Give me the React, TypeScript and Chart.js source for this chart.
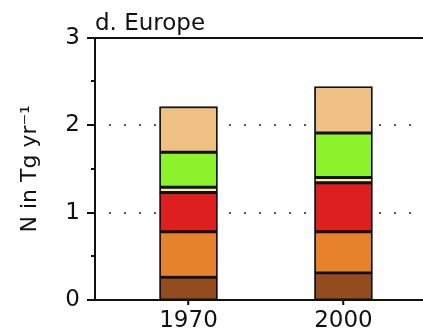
import React, { useEffect, useRef } from 'react';
import { Chart, registerables } from 'chart.js';

Chart.register(...registerables);

// ---- data ----
const years = [1970, 2000];
const seriesNames = ['Component 1', 'Component 2', 'Component 3', 'Component 4', 'Component 5', 'Component 6'];
const brownValues = [0.26, 0.31];
const orangeValues = [0.52, 0.47];
const redValues = [0.45, 0.56];
const paleValues = [0.06, 0.06];
const greenValues = [0.40, 0.51];
const tanValues = [0.52, 0.53];
const yMajorTicks = [0, 1, 2, 3];
const yMinorTicks = [0.5, 1.5, 2.5];
const dottedLevels = [1, 2];
const titleText = 'd. Europe';
const yTitle = 'N in Tg yr\u207B\u00B9';

const colors = ['#924C1D', '#E5822B', '#DD1F1F', '#F7EBA8', '#8CF22C', '#EEC084'];
const FONT = 'DejaVu Sans';

const framePlugin = {
  id: 'frame',
  beforeDatasetsDraw(chart: any) {
    const { ctx, chartArea, scales } = chart;
    const y = scales.y;
    ctx.save();
    ctx.strokeStyle = '#555';
    ctx.lineWidth = 2;
    ctx.setLineDash([2, 13]);
    for (const v of dottedLevels) {
      const py = Math.round(y.getPixelForValue(v));
      ctx.beginPath();
      ctx.moveTo(chartArea.left + 14, py);
      ctx.lineTo(chartArea.right, py);
      ctx.stroke();
    }
    ctx.restore();
  },
  afterDraw(chart: any) {
    const { ctx, chartArea, scales } = chart;
    const y = scales.y;
    const x = scales.x;
    ctx.save();
    ctx.strokeStyle = '#111';
    ctx.lineWidth = 2;
    ctx.beginPath();
    ctx.moveTo(chartArea.left, Math.round(chartArea.top));
    ctx.lineTo(chartArea.right, Math.round(chartArea.top));
    ctx.stroke();
    for (const v of yMajorTicks) {
      const py = Math.round(y.getPixelForValue(v));
      ctx.beginPath();
      ctx.moveTo(chartArea.left - 8, py);
      ctx.lineTo(chartArea.left, py);
      ctx.stroke();
    }
    for (const v of yMinorTicks) {
      const py = Math.round(y.getPixelForValue(v));
      ctx.beginPath();
      ctx.moveTo(chartArea.left - 4, py);
      ctx.lineTo(chartArea.left, py);
      ctx.stroke();
    }
    ctx.lineWidth = 1.5;
    for (const v of years) {
      const px = Math.round(x.getPixelForValue(v));
      ctx.beginPath();
      ctx.moveTo(px, chartArea.bottom);
      ctx.lineTo(px, chartArea.bottom + 5);
      ctx.stroke();
    }
    ctx.restore();
  },
};

export default function App() {
  const ref = useRef<HTMLCanvasElement | null>(null);

  useEffect(() => {
    document.body.style.margin = '0';
    const canvas = ref.current;
    if (!canvas) return;
    const seriesData = [brownValues, orangeValues, redValues, paleValues, greenValues, tanValues];
    const chart = new Chart(canvas, {
      type: 'bar',
      data: {
        labels: years,
        datasets: seriesData.map((d, i) => ({
          label: seriesNames[i],
          data: d,
          backgroundColor: colors[i],
          borderColor: '#111',
          borderWidth: 1.8,
          borderSkipped: false,
          barThickness: 58,
        })),
      },
      options: {
        responsive: false,
        animation: false,
        layout: { padding: 0 },
        plugins: {
          legend: { display: false },
          tooltip: { enabled: false },
          title: {
            display: true,
            text: titleText,
            align: 'start',
            fullSize: false,
            color: '#111',
            font: { family: FONT, size: 23, weight: 'normal' },
            padding: { top: 10, bottom: 0 },
          },
        },
        scales: {
          x: {
            type: 'linear',
            stacked: true,
            offset: false,
            min: 1951.9,
            max: 2015.4,
            afterBuildTicks: (s: any) => {
              s.ticks = years.map((v) => ({ value: v }));
            },
            afterFit: (s: any) => {
              s.height = 29;
            },
            ticks: {
              color: '#111',
              font: { family: FONT, size: 23 },
              padding: 2,
              maxRotation: 0,
              autoSkip: false,
              callback: (v: any) => String(v),
            },
            grid: {
              display: true,
              offset: false,
              drawOnChartArea: false,
              drawTicks: true,
              tickLength: 5,
              tickColor: '#111',
              tickWidth: 1.5,
            },
            border: { display: true, color: '#111', width: 2 },
          },
          y: {
            stacked: true,
            min: 0,
            max: 3,
            afterFit: (s: any) => {
              s.width = 95;
            },
            afterBuildTicks: (s: any) => {
              s.ticks = yMajorTicks.map((v) => ({ value: v }));
            },
            ticks: {
              color: '#111',
              font: { family: FONT, size: 23 },
              padding: 15,
              callback: (v: any) => String(v),
            },
            grid: { display: false, drawTicks: false },
            border: { display: true, color: '#111', width: 2 },
            title: {
              display: true,
              text: yTitle,
              color: '#111',
              font: { family: FONT, size: 22 },
              padding: { top: 17, bottom: 0 },
            },
          },
        },
      },
      plugins: [framePlugin],
    } as any);
    return () => chart.destroy();
  }, []);

  return (
    <div style={{ position: 'absolute', left: 0, top: 0, width: 423, height: 329, background: '#fff' }}>
      <canvas ref={ref} width={423} height={329} />
    </div>
  );
}
